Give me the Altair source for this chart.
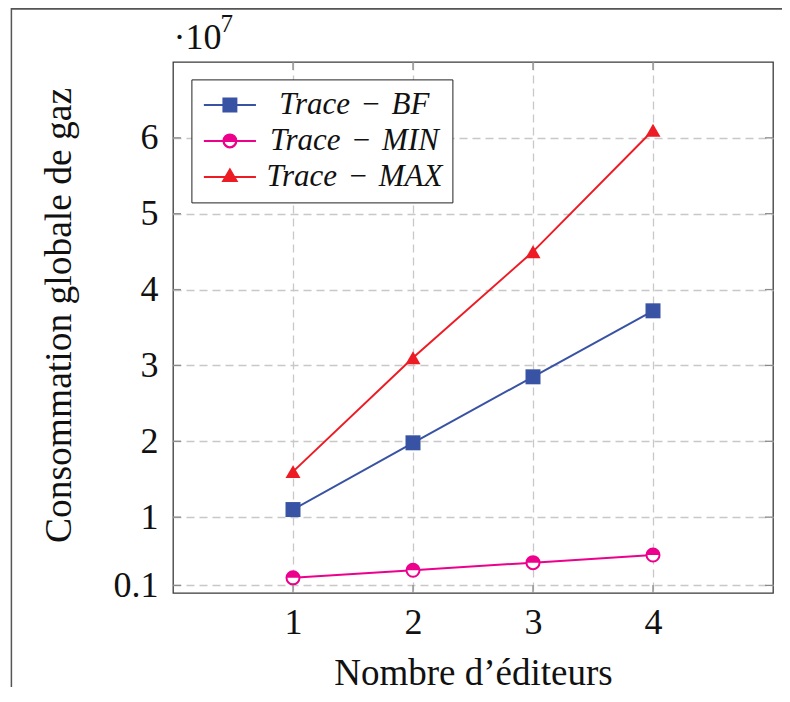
import altair as alt
import pandas as pd

# ---- data (values in units of 10^7) ----
editeurs = [1, 2, 3, 4]
series_names = ["Trace\u2004\u2212\u2004BF", "Trace\u2004\u2212\u2004MIN", "Trace\u2004\u2212\u2004MAX"]
trace_bf = [1.1, 1.98, 2.85, 3.72]
trace_min = [0.2, 0.3, 0.4, 0.5]
trace_max = [1.6, 3.1, 4.5, 6.1]
series_colors = ["#3953a4", "#ec008c", "#ed1c24"]
y_ticks = [0.1, 1, 2, 3, 4, 5, 6]
x_ticks = [1, 2, 3, 4]

rows = []
for name, vals in zip(series_names, [trace_bf, trace_min, trace_max]):
    for xv, yv in zip(editeurs, vals):
        rows.append({"series": name, "x": xv, "y": yv})
df = pd.DataFrame(rows)
ytick_df = pd.DataFrame({"y": y_ticks})
xtick_df = pd.DataFrame({"x": x_ticks})

FONT = "Liberation Serif"
TXT = "#111111"
W, H = 600, 531

x_axis = alt.Axis(
    values=x_ticks, format="d", title="Nombre d\u2019\u00e9diteurs",
    grid=True, gridColor="#c8c8c8", gridDash=[8, 5], gridWidth=1.3,
    ticks=False, tickSize=0, domain=False,
    labelFont=FONT, labelFontSize=36, labelColor=TXT, labelPadding=40,
    labelBaseline="alphabetic", labelFlush=False, labelOverlap=False,
    titleFont=FONT, titleFontSize=37, titleFontWeight="normal", titleColor=TXT,
    titleBaseline="alphabetic", titleY=91,
)
y_axis = alt.Axis(
    values=y_ticks, format="~g", title="Consommation globale de gaz",
    grid=True, gridColor="#c8c8c8", gridDash=[8, 5], gridWidth=1.3,
    ticks=False, tickSize=0, domain=False,
    labelFont=FONT, labelFontSize=36, labelColor=TXT, labelPadding=15,
    labelBaseline="middle", labelFlush=False, labelOverlap=False,
    titleFont=FONT, titleFontSize=37.5, titleFontWeight="normal", titleColor=TXT,
    titleAngle=270, titleAlign="center", titleBaseline="bottom",
    titleX=-95, titleY=253,
)
x_enc = alt.X("x:Q", scale=alt.Scale(domain=[0, 5], nice=False, zero=False), axis=x_axis)
y_enc = alt.Y("y:Q", scale=alt.Scale(domain=[0, 7], nice=False, zero=False), axis=y_axis)

color_scale = alt.Scale(domain=series_names, range=series_colors)

# legend symbols: line + marker (custom SVG paths, unit = sqrt(size)/2)
legend_paths = [
    "M-2.17,0H2.17M-0.54,-0.54H0.54V0.54H-0.54Z",
    "M-2.17,0H-0.54M0.54,0H2.17M-0.54,0A0.54,0.54,0,0,1,0.54,0Z"
    "M-0.54,0A0.54,0.54,0,0,0,0.54,0L0.52,0A0.52,0.52,0,0,1,-0.52,0Z",
    "M-2.17,0H2.17M0,-0.62L0.56,0.34L-0.56,0.34Z",
]

legend = alt.Legend(
    title=None, orient="none", legendX=18.4, legendY=17.4,
    padding=10, strokeColor="#222222", fillColor="white",
    labelFont=FONT, labelFontStyle="italic", labelFontSize=31, labelColor=TXT,
    labelAlign="center", labelOffset=109, labelLimit=500,
    symbolOffset=13, symbolSize=576, symbolStrokeWidth=2, symbolOpacity=1,
    rowPadding=4,
)

base = alt.Chart(df)


def only(i):
    return base.transform_filter(alt.datum.series == series_names[i])


line_layers = [
    only(i).mark_line(strokeWidth=2, color=series_colors[i]).encode(x=x_enc, y=y_enc)
    for i in range(3)
]

bf_pts = only(0).mark_point(
    shape="square", filled=True, size=225, opacity=1, color=series_colors[0]
).encode(x=x_enc, y=y_enc)

min_bg = only(1).mark_point(
    shape="circle", filled=False, size=169, opacity=1, fill="white",
    stroke=series_colors[1], strokeWidth=2
).encode(x=x_enc, y=y_enc)

min_half = only(1).mark_point(
    shape="M-1,0A1,1,0,0,1,1,0Z", filled=True, size=169, opacity=1,
    color=series_colors[1]
).encode(x=x_enc, y=y_enc)

max_pts = only(2).mark_point(
    shape="triangle-up", filled=True, size=225, opacity=1, color=series_colors[2]
).encode(x=x_enc, y=y_enc)

# legend-only layer: its marks are filtered out, the legend comes from the scales
legend_layer = base.transform_filter("false").mark_point(
    filled=True, size=576, strokeWidth=2, opacity=1
).encode(
    x=x_enc, y=y_enc,
    color=alt.Color("series:N", scale=color_scale, legend=legend),
    stroke=alt.Stroke("series:N", scale=color_scale, legend=legend),
    shape=alt.Shape("series:N", scale=alt.Scale(domain=series_names, range=legend_paths), legend=legend),
)

# inward tick marks (pgfplots style) on all four sides
tick_col = "#8a8a8a"
yt_left = alt.Chart(ytick_df).mark_rule(color=tick_col, strokeWidth=1.3).encode(
    y=y_enc, x=alt.value(0), x2=alt.value(8))
yt_right = alt.Chart(ytick_df).mark_rule(color=tick_col, strokeWidth=1.3).encode(
    y=y_enc, x=alt.value(W - 8), x2=alt.value(W))
xt_bottom = alt.Chart(xtick_df).mark_rule(color=tick_col, strokeWidth=1.3).encode(
    x=x_enc, y=alt.value(H - 8), y2=alt.value(H))
xt_top = alt.Chart(xtick_df).mark_rule(color=tick_col, strokeWidth=1.3).encode(
    x=x_enc, y=alt.value(0), y2=alt.value(8))

# axis multiplier  ·10^7
mult = alt.Chart(pd.DataFrame({"t": ["\u00b710"]})).mark_text(
    font=FONT, fontSize=36, color=TXT, align="left", baseline="alphabetic"
).encode(text="t:N", x=alt.value(0.5), y=alt.value(-12.7))
mult_exp = alt.Chart(pd.DataFrame({"t": ["7"]})).mark_text(
    font=FONT, fontSize=25, color=TXT, align="left", baseline="alphabetic"
).encode(text="t:N", x=alt.value(47.5), y=alt.value(-30))

# outer frame (left and top edges visible in the reference)
one = pd.DataFrame({"a": [0]})
frame_left = alt.Chart(one).mark_rule(color="#555555", strokeWidth=1.5).encode(
    x=alt.value(-161.6), y=alt.value(-54), y2=alt.value(H + 94))
frame_top = alt.Chart(one).mark_rule(color="#555555", strokeWidth=2).encode(
    y=alt.value(-53.3), x=alt.value(-161.6), x2=alt.value(W + 9))

chart = alt.layer(
    yt_left, yt_right, xt_bottom, xt_top,
    *line_layers, bf_pts, min_bg, min_half, max_pts, legend_layer,
    mult, mult_exp, frame_left, frame_top,
).properties(
    width=W, height=H,
    autosize=alt.AutoSizeParams(type="none"),
    padding={"left": 165, "top": 54, "right": 9, "bottom": 94},
    background="white",
).configure_view(
    stroke="#3a3a3a", strokeWidth=1.3
).configure_legend(
    labelFont=FONT, labelFontStyle="italic", labelFontSize=31, labelColor=TXT
)

chart.save("out.html", embed_options={"renderer": "svg", "actions": False})
